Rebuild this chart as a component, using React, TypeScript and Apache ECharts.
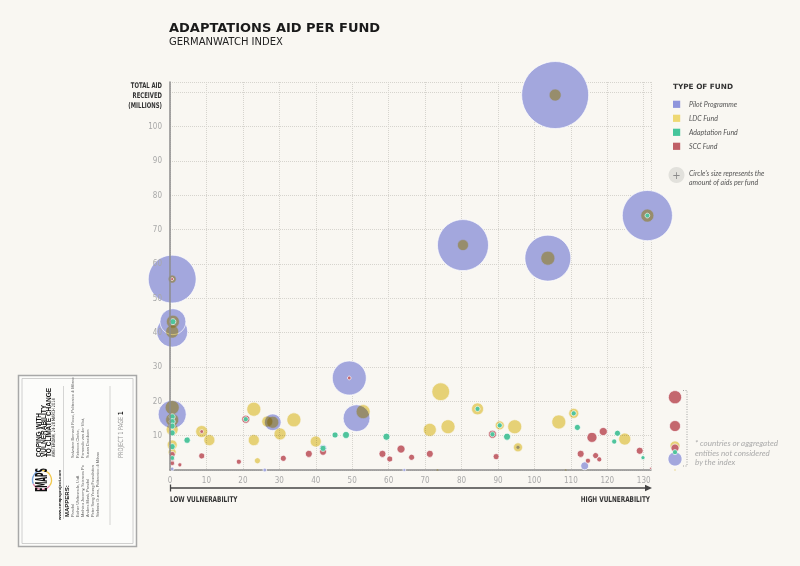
import React, { useEffect, useRef } from "react";
import * as echarts from "echarts";

// ---------- data ----------
// [vulnerability rank, total aid received (millions), amount of this fund (millions)]
const pilotProgramme: number[][] = [
  [105.7, 109.2, 100], [131, 74.1, 56], [80.4, 65.5, 58], [103.7, 61.7, 47],
  [0.6, 55.6, 51], [0.8, 43.2, 15], [0.6, 40.3, 21.4], [0.6, 16.2, 17.5],
  [49.2, 26.8, 25.7], [51.2, 15.1, 16], [28.2, 13.9, 6.2], [42, 6.3, 1.3],
  [26, 0, 0.3], [64.3, 0, 0.2], [113.8, 1.2, 1.4], [0.6, 0.3, 0.3], [95.5, 6.6, 0.36],
];
const ldcFund: number[][] = [
  [105.7, 109.2, 3.2], [131, 74.1, 3.76], [80.4, 65.5, 2.7], [103.7, 61.7, 4.37],
  [0.6, 55.6, 1.43], [0.8, 43.2, 3.76], [0.6, 40.3, 3.76], [0.6, 18.2, 4.37],
  [0.6, 14.6, 3.76], [0.6, 11.8, 3.2], [0.6, 7.3, 2.23], [0.6, 5.2, 1.43],
  [28.2, 13.9, 3.2], [53, 17, 4.37], [8.7, 11.2, 3.2], [10.8, 8.7, 2.7],
  [23, 17.7, 4.37], [23, 8.7, 2.7], [24, 2.7, 0.8], [26.7, 14.1, 2.7],
  [30.2, 10.5, 3.2], [34, 14.6, 4.37], [40, 8.3, 2.7], [71.3, 11.7, 3.76],
  [73.4, 0, 0.09], [74.3, 22.8, 7], [76.3, 12.6, 4.37], [84.4, 17.8, 3.2],
  [90.5, 13, 1.8], [94.6, 12.6, 4.37], [95.5, 6.6, 1.8], [106.7, 14, 4.37],
  [108.6, 0, 0.09], [110.8, 16.5, 2.23], [124.8, 9, 3.2],
];
const adaptationFund: number[][] = [
  [131, 74.1, 0.5], [0.8, 43.2, 0.8], [0.6, 15.5, 0.8], [0.6, 14.1, 0.8],
  [0.6, 12.8, 0.8], [0.6, 10.8, 0.8], [0.6, 6.8, 0.8], [0.6, 3.5, 0.5],
  [4.7, 8.7, 0.9], [20.8, 14.8, 0.56], [42, 6.3, 0.8], [45.3, 10.2, 0.8],
  [48.3, 10.2, 1.09], [59.4, 9.7, 1.09], [84.4, 17.8, 0.56], [88.5, 10.4, 0.56],
  [90.5, 13, 0.56], [92.5, 9.7, 1.09], [110.8, 16.5, 0.56], [111.8, 12.4, 0.8],
  [121.9, 8.3, 0.56], [122.8, 10.7, 0.8], [129.8, 3.6, 0.36],
];
const sccFund: number[][] = [
  [0.6, 55.6, 0.2], [49.2, 26.8, 0.3], [8.7, 11.2, 0.3], [8.7, 4.1, 0.8],
  [2.7, 1.5, 0.36], [0.6, 4.5, 0.8], [0.6, 2.0, 0.5], [0.6, 3.3, 0.5],
  [18.9, 2.4, 0.56], [20.8, 14.8, 1.43], [31.1, 3.4, 0.8], [38.1, 4.7, 1.09],
  [42, 5.3, 1.09], [58.3, 4.7, 1.09], [60.3, 3.2, 0.8], [63.4, 6.1, 1.43],
  [66.3, 3.7, 0.8], [71.3, 4.7, 1.09], [88.5, 10.4, 1.43], [89.5, 3.9, 0.8],
  [112.7, 4.7, 1.09], [114.7, 2.7, 0.56], [115.8, 9.5, 2.23], [116.8, 4.2, 0.8],
  [117.8, 3.1, 0.56], [118.9, 11.2, 1.43], [128.9, 5.6, 1.09], [131.9, 0.5, 0.09],
];
// countries / aggregated entities not considered by the index: [total aid, amount]
const pilotUnindexed: number[][] = [[3.2, 4.37]];
const ldcUnindexed: number[][] = [[7, 2.23], [0, 0.09]];
const adaptationUnindexed: number[][] = [[5.2, 0.56]];
const sccUnindexed: number[][] = [[21.2, 3.9], [12.8, 2.7], [6.4, 1.43]];

const fundNames = ["Pilot Programme", "LDC Fund", "Adaptation Fund", "SCC Fund"];
const yAxisTitle = ["TOTAL AID", "RECEIVED", "(MILLIONS)"];
const X_MAX = 132;
const Y_MAX = 113;
const Y_LAST_LABEL = 100;
const TICK_STEP = 10;
const UNINDEXED_CATEGORY = ["*"];

// ---------- styles ----------
const BG = "#f9f7f2";
const PILOT_COLOR = "#a3a7dd";
const LDC_COLOR = "#ecd87c";
const ADAPT_COLOR = "#4fc49c";
const SCC_COLOR = "#c4676e";
const legendColors = ["#8f95dc", "#eed873", "#45c59b", "#bf5f66"];
const SIZE_K = 6.7;
const NARROW = "'DejaVu Sans Condensed', sans-serif";
const LATO = "Lato, 'Open Sans', sans-serif";

const byAmountDesc = (arr: number[][], idx: number) =>
  [...arr].sort((a, b) => b[idx] - a[idx]);

function bubbleSeries(name: string, color: string, data: any[], axis: number) {
  return {
    type: "scatter",
    name,
    xAxisIndex: axis,
    yAxisIndex: axis,
    data,
    clip: false,
    silent: true,
    symbol: "circle",
    symbolSize: (v: number[]) => SIZE_K * Math.sqrt(v[2]),
    itemStyle: {
      color,
      opacity: 1,
      borderColor: "rgba(255,255,255,0.85)",
      borderWidth: 0.8,
    },
  };
}

function cardGraphics() {
  // card content is rotated 90° counter-clockwise; origin at bottom-left of card
  const t = (text: string, x: number, y: number, size: number, opts: any = {}) => ({
    type: "text",
    x,
    y,
    scaleX: opts.sx || 1,
    style: {
      text,
      fontSize: size,
      fontFamily: opts.family || "'Liberation Sans', sans-serif",
      fontWeight: opts.weight || "normal",
      fill: opts.color || "#333",
      verticalAlign: "middle",
      align: "left",
      rich: opts.rich,
    },
  });
  const leftNames = [
    "Parsifal",
    "Esther Weltevrede, UvA",
    "Mathieu Jacomy, Sciences Po",
    "Anders Munk, Parsifal",
    "Peter Sang Young Foundation",
    "Stefania Guerra, Politecnico di Milano",
  ];
  const rightNames = [
    "Salvatore Bernardi Rossi, Politecnico di Milano",
    "Rebecca Clarke,",
    "Fernando van der Vlist,",
    "Susan Davidson",
  ];
  const children: any[] = [
    t("COPING WITH", 90, 20, 6.5, { weight: "bold", color: "#111" }),
    t("VULNERABILITY", 90, 25.3, 6.5, { weight: "bold", color: "#111" }),
    t("TO CLIMATE CHANGE", 90, 30.6, 6.5, { weight: "bold", color: "#111" }),
    t("AMSTERDAM, 24-28 MARCH 2014", 90, 35.6, 4.6, { family: NARROW, color: "#222", sx: 0.85 }),
    t("www.emapsproject.com", 27, 41, 4.4, { weight: "bold", color: "#222" }),
    t("MAPPERS:", 30, 48.7, 6, { weight: "bold", color: "#111" }),
    t("PROJECT 1 PAGE {b|1}", 89, 102, 7, {
      family: NARROW,
      color: "#999",
      sx: 0.8,
      rich: { b: { fontWeight: "bold", fill: "#222", fontSize: 7, fontFamily: NARROW } },
    }),
    {
      type: "line",
      shape: { x1: 28, y1: 45.5, x2: 161, y2: 45.5 },
      style: { stroke: "#bbb", lineWidth: 0.6 },
    },
    {
      type: "line",
      shape: { x1: 22, y1: 92, x2: 161, y2: 92 },
      style: { stroke: "#bbb", lineWidth: 0.6 },
    },
    // logo
    { type: "arc", shape: { cx: 67, cy: 24, r: 9.5, startAngle: 0, endAngle: 2.2 }, style: { stroke: "#f2c94c", lineWidth: 1.3, fill: "none" } },
    { type: "arc", shape: { cx: 67, cy: 24, r: 9.5, startAngle: 2.2, endAngle: 4.3 }, style: { stroke: "#e07aa6", lineWidth: 1.3, fill: "none" } },
    { type: "arc", shape: { cx: 67, cy: 24, r: 9.5, startAngle: 4.3, endAngle: 6.29 }, style: { stroke: "#7aa6e0", lineWidth: 1.3, fill: "none" } },
    {
      type: "text",
      x: 67,
      y: 24,
      scaleY: 2,
      scaleX: 0.9,
      style: {
        text: "EMAPS",
        fontSize: 7.5,
        fontFamily: NARROW,
        fontWeight: "bold",
        fill: "#111",
        align: "center",
        verticalAlign: "middle",
      },
    },
  ];
  leftNames.forEach((n, i) => children.push(t(n, 30, 54 + i * 5, 3.9, { color: "#666" })));
  rightNames.forEach((n, i) => children.push(t(n, 89, 54 + i * 5, 3.9, { color: "#666" })));
  return [
    {
      type: "rect",
      shape: { x: 18.5, y: 375.5, width: 118, height: 171 },
      style: { fill: "#fcfcfa", stroke: "#a8a8a8", lineWidth: 1.5 },
    },
    {
      type: "rect",
      shape: { x: 22, y: 378.5, width: 111, height: 165 },
      style: { fill: "none", stroke: "#c4c4c4", lineWidth: 0.8 },
    },
    { type: "group", x: 18, y: 547, rotation: Math.PI / 2, children },
  ];
}

function legendGraphics() {
  const items: any[] = [
    {
      type: "text",
      x: 673,
      y: 86,
      style: {
        text: "TYPE OF FUND",
        fontSize: 7.3,
        fontWeight: "bold",
        fontFamily: "'DejaVu Sans', sans-serif",
        fill: "#333",
        verticalAlign: "middle",
      },
    },
  ];
  fundNames.forEach((name, i) => {
    const cy = 104.3 + i * 14;
    items.push({
      type: "rect",
      shape: { x: 673, y: cy - 3.6, width: 7.2, height: 7.2 },
      style: { fill: legendColors[i] },
    });
    items.push({
      type: "text",
      x: 689,
      y: cy,
      style: {
        text: name,
        fontSize: 7,
        fontStyle: "italic",
        fontFamily: LATO,
        fill: "#555",
        verticalAlign: "middle",
      },
    });
  });
  items.push(
    { type: "circle", shape: { cx: 676.5, cy: 175, r: 8 }, style: { fill: "#e2e1dc" } },
    {
      type: "text",
      x: 676.5,
      y: 175,
      style: { text: "+", fontSize: 10, fill: "#8a8a8a", align: "center", verticalAlign: "middle", fontFamily: "'DejaVu Sans', sans-serif" },
    },
    {
      type: "text",
      x: 689,
      y: 172.5,
      style: { text: "Circle's size represents the", fontSize: 7, fontStyle: "italic", fontFamily: LATO, fill: "#555", verticalAlign: "middle" },
    },
    {
      type: "text",
      x: 689,
      y: 181.5,
      style: { text: "amount of aids per fund", fontSize: 7, fontStyle: "italic", fontFamily: LATO, fill: "#555", verticalAlign: "middle" },
    }
  );
  return items;
}

function otherGraphics() {
  const noteLines = ["* countries or aggregated", "entities not considered", "by the index"];
  const g: any[] = [
    {
      type: "text",
      x: 169,
      y: 27,
      style: { text: "ADAPTATIONS AID PER FUND", fontSize: 13, fontWeight: "bold", fontFamily: "'DejaVu Sans', sans-serif", fill: "#1a1a1a", verticalAlign: "middle" },
    },
    {
      type: "text",
      x: 169,
      y: 41.5,
      style: { text: "GERMANWATCH INDEX", fontSize: 10, fontFamily: "'DejaVu Sans', sans-serif", fill: "#222", verticalAlign: "middle" },
    },
    ...yAxisTitle.map((s, i) => ({
      type: "text",
      x: 162,
      y: 86 + i * 10,
      scaleX: 0.76,
      style: { text: s, fontSize: 7.8, lineHeight: 8, fontWeight: "bold", fontFamily: NARROW, fill: "#333", align: "right", verticalAlign: "middle" },
    })),
    // vulnerability arrow
    { type: "line", shape: { x1: 170.5, y1: 484.5, x2: 170.5, y2: 491.5 }, style: { stroke: "#444", lineWidth: 1.3 } },
    { type: "line", shape: { x1: 170, y1: 488, x2: 646, y2: 488 }, style: { stroke: "#444", lineWidth: 1.3 } },
    { type: "polygon", shape: { points: [[652, 488], [645, 484.8], [645, 491.2]] }, style: { fill: "#444" } },
    {
      type: "text",
      x: 170,
      y: 499,
      scaleX: 0.8,
      style: { text: "LOW VULNERABILITY", fontSize: 8, fontWeight: "bold", fontFamily: NARROW, fill: "#333", verticalAlign: "middle" },
    },
    {
      type: "text",
      x: 650,
      y: 499,
      scaleX: 0.8,
      style: { text: "HIGH VULNERABILITY", fontSize: 8, fontWeight: "bold", fontFamily: NARROW, fill: "#333", align: "right", verticalAlign: "middle" },
    },
    // bracket
    {
      type: "polyline",
      shape: { points: [[683, 390.5], [687, 390.5], [687, 466], [683, 466]] },
      style: { stroke: "#999", lineWidth: 0.9, lineDash: [1, 1.5], fill: "none" },
    },
    ...noteLines.map((s, i) => ({
      type: "text",
      x: 695,
      y: 443 + i * 9.5,
      style: { text: s, fontSize: 8, fontStyle: "italic", fontFamily: LATO, fill: "#aaa", verticalAlign: "middle" },
    })),
  ];
  return g;
}

const axisLabelStyle = { color: "#a8a8a8", fontSize: 8, fontFamily: NARROW };
const splitLineStyle = { show: true, lineStyle: { color: "#d6d4ce", type: "dotted", width: 1 } };

const option: any = {
  animation: false,
  backgroundColor: BG,
  grid: [
    { left: 170, top: 82, width: 481, height: 388 },
    { left: 668, top: 82, width: 14, height: 388 },
  ],
  xAxis: [
    {
      type: "value",
      gridIndex: 0,
      min: 0,
      max: X_MAX,
      interval: TICK_STEP,
      axisLine: { show: true, onZero: false, lineStyle: { color: "#8c8c8c", width: 1.5 } },
      axisTick: { show: false },
      axisLabel: { ...axisLabelStyle, margin: 6, showMaxLabel: false },
      splitLine: splitLineStyle,
    },
    { type: "category", gridIndex: 1, data: UNINDEXED_CATEGORY, show: false },
  ],
  yAxis: [
    {
      // grid lines only (drawn below the bubbles)
      type: "value",
      gridIndex: 0,
      position: "left",
      min: 0,
      max: Y_MAX,
      interval: TICK_STEP,
      axisLine: { show: false },
      axisTick: { show: false },
      axisLabel: { show: false },
      splitLine: splitLineStyle,
    },
    { type: "value", gridIndex: 1, min: 0, max: Y_MAX, show: false },
    {
      // axis line and labels drawn above the bubbles
      type: "value",
      gridIndex: 0,
      position: "left",
      offset: 0,
      min: 0,
      max: Y_MAX,
      interval: TICK_STEP,
      zlevel: 1,
      z: 10,
      axisLine: { show: true, onZero: false, lineStyle: { color: "#8c8c8c", width: 1.5 } },
      axisTick: { show: false },
      axisLabel: {
        ...axisLabelStyle,
        margin: 8,
        showMaxLabel: false,
        showMinLabel: false,
        formatter: (v: number) => (v <= Y_LAST_LABEL ? String(v) : ""),
      },
      splitLine: { show: false },
    },
  ],
  series: [
    bubbleSeries(fundNames[0], PILOT_COLOR, byAmountDesc(pilotProgramme, 2), 0),
    bubbleSeries(fundNames[1], LDC_COLOR, byAmountDesc(ldcFund, 2), 0),
    bubbleSeries(fundNames[3], SCC_COLOR, byAmountDesc(sccFund, 2), 0),
    bubbleSeries(fundNames[2], ADAPT_COLOR, byAmountDesc(adaptationFund, 2), 0),
    bubbleSeries(fundNames[0], PILOT_COLOR, pilotUnindexed.map((d) => [UNINDEXED_CATEGORY[0], d[0], d[1]]), 1),
    bubbleSeries(fundNames[1], LDC_COLOR, ldcUnindexed.map((d) => [UNINDEXED_CATEGORY[0], d[0], d[1]]), 1),
    bubbleSeries(fundNames[3], SCC_COLOR, byAmountDesc(sccUnindexed, 1).map((d) => [UNINDEXED_CATEGORY[0], d[0], d[1]]), 1),
    bubbleSeries(fundNames[2], ADAPT_COLOR, adaptationUnindexed.map((d) => [UNINDEXED_CATEGORY[0], d[0], d[1]]), 1),
  ],
  graphic: [...otherGraphics(), ...legendGraphics(), ...cardGraphics()],
};

export default function App() {
  const ref = useRef<HTMLDivElement>(null);
  useEffect(() => {
    const chart = echarts.init(ref.current!, null, { renderer: "svg" });
    chart.setOption(option);
    return () => chart.dispose();
  }, []);
  return (
    <>
      <style>{`.fund-chart [fill="${LDC_COLOR}"], .fund-chart [fill="rgb(236,216,124)"] { mix-blend-mode: multiply; }`}</style>
      <div
        ref={ref}
        className="fund-chart"
        style={{ position: "absolute", left: 0, top: 0, width: 800, height: 566 }}
      />
    </>
  );
}
